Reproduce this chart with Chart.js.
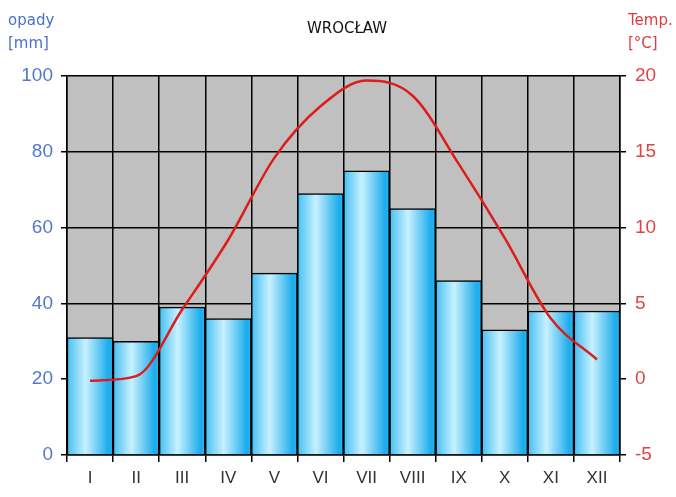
<!DOCTYPE html>
<html>
<head>
  <title>Wrocław</title>
  <script src="https://cdn.jsdelivr.net/npm/chart.js"></script>
  <style>
    body { margin: 0; background: #fff; }
  </style>
</head>
<body>
  <canvas id="chartCanvas" width="676" height="497"></canvas>

<script>
  // miesiące i dane klimatyczne
  const months = ["I", "II", "III", "IV", "V", "VI", "VII", "VIII", "IX", "X", "XI", "XII"];
  const precip = [31, 30, 39, 36, 48, 69, 75, 65, 46, 33, 38, 38];
  const temps = [-0.1, 0.2, 4.6, 9.2, 14.6, 18.0, 19.7, 18.7, 14.2, 9.3, 4.0, 1.3];

  const plotBg = {
    id: "plotBg",
    beforeDraw(chart) {
      const { ctx, chartArea: a } = chart;
      ctx.save();
      ctx.fillStyle = "#c0c0c0";
      ctx.fillRect(a.left, a.top, a.right - a.left, a.bottom - a.top);
      ctx.restore();
    },
    afterDraw(chart) {
      const ctx = chart.ctx;
      ctx.save();
      ctx.font = "15px 'DejaVu Sans'";
      ctx.textBaseline = "alphabetic";
      ctx.fillStyle = "#4a70c8";
      ctx.fillText("opady", 8, 25);
      ctx.fillText("[mm]", 8, 48);
      ctx.fillStyle = "#e03c3c";
      ctx.fillText("Temp.", 628, 25);
      ctx.fillText("[°C]", 628, 48);
      ctx.fillStyle = "#111";
      ctx.textAlign = "center";
      ctx.fillText("WROCŁAW", 347, 33);
      ctx.restore();
    }
  };

  function barGradient(c) {
    const chart = c.chart;
    if (!chart.chartArea) return "#7fd6f8";
    const a = chart.chartArea;
    const w = (a.right - a.left) / months.length;
    const cx = chart.scales.x.getPixelForValue(c.dataIndex);
    const g = chart.ctx.createLinearGradient(cx - w / 2, 0, cx + w / 2, 0);
    g.addColorStop(0, "#45bff2");
    g.addColorStop(0.4, "#c8f1ff");
    g.addColorStop(0.9, "#1cacec");
    g.addColorStop(1, "#2ab4ee");
    return g;
  }

  const ctx = document.getElementById("chartCanvas").getContext("2d");
  new Chart(ctx, {
    data: {
      labels: months,
      datasets: [
        {
          type: "line",
          label: "Temp.",
          data: temps,
          yAxisID: "y1",
          borderColor: "#dd1c1c",
          borderWidth: 2.5,
          pointRadius: 0,
          cubicInterpolationMode: "monotone",
          order: 0
        },
        {
          type: "bar",
          label: "opady",
          data: precip,
          yAxisID: "y",
          backgroundColor: barGradient,
          borderColor: "#000",
          borderWidth: 1.5,
          barPercentage: 1,
          categoryPercentage: 1,
          order: 1
        }
      ]
    },
    options: {
      responsive: false,
      animation: false,
      layout: { padding: { top: 76, left: 0, right: 0, bottom: 0 } },
      plugins: {
        legend: { display: false },
        tooltip: { enabled: false }
      },
      scales: {
        x: {
          offset: true,
          grid: { color: "#000", lineWidth: 1.5, tickLength: 7, offset: true },
          border: { color: "#000", width: 1.5 },
          ticks: { color: "#333", font: { family: "Liberation Sans", size: 17 }, padding: 6 },
          afterFit(s) { s.height = 42; }
        },
        y: {
          position: "left",
          min: 0,
          max: 100,
          ticks: { stepSize: 20, color: "#5577cc", font: { family: "Liberation Sans", size: 19 }, padding: 8 },
          grid: { color: "#000", lineWidth: 1.5, tickLength: 6 },
          border: { color: "#000", width: 1.5 },
          afterFit(s) { s.width = 67; }
        },
        y1: {
          position: "right",
          min: -5,
          max: 20,
          ticks: { stepSize: 5, color: "#e04444", font: { family: "Liberation Sans", size: 19 }, padding: 9 },
          grid: { drawOnChartArea: false, color: "#000", lineWidth: 1.5, tickLength: 6 },
          border: { color: "#000", width: 1.5 },
          afterFit(s) { s.width = 56; }
        }
      }
    },
    plugins: [plotBg]
  });
</script>
</body>
</html>
